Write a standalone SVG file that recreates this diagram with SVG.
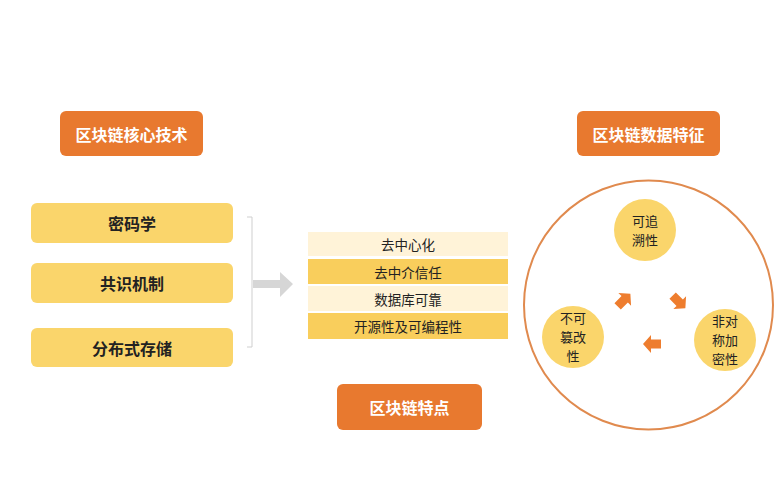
<svg xmlns="http://www.w3.org/2000/svg" width="775" height="483" viewBox="0 0 775 483">
<defs>
<style>
.title{fill:#E8792F;}
.ttxt{fill:#ffffff;font-family:"Noto Sans CJK SC",sans-serif;font-size:16px;font-weight:bold;text-anchor:middle;dominant-baseline:central;}
.ybox{fill:#FAD56B;}
.ytxt{fill:#222;font-family:"Noto Sans CJK SC",sans-serif;font-size:16px;font-weight:bold;text-anchor:middle;dominant-baseline:central;}
.rowL{fill:#FFF3D8;}
.rowD{fill:#F9CE5C;}
.rtxt{fill:#222;font-family:"Noto Sans CJK SC",sans-serif;font-size:13.5px;text-anchor:middle;dominant-baseline:central;}
.circ{fill:#FAD56B;}
.ctxt{fill:#222;font-family:"Noto Sans CJK SC",sans-serif;font-size:13px;text-anchor:middle;}
.oarr{fill:#EE7D2E;}
</style>
<path id="barrow" d="M-9,-4.5 L1,-4.5 L1,-9 L9,0 L1,9 L1,4.5 L-9,4.5 Z"/>
</defs>
<rect width="775" height="483" fill="#ffffff"/>

<g id="title-core"><rect class="title" x="60" y="111" width="143" height="45" rx="6"/><text class="ttxt" x="131.5" y="133.5">区块链核心技术</text></g>
<g id="title-data"><rect class="title" x="577" y="111" width="143" height="45" rx="6"/><text class="ttxt" x="648.5" y="133.5">区块链数据特征</text></g>
<g id="title-feature"><rect class="title" x="337" y="384" width="145" height="46" rx="6"/><text class="ttxt" x="409.5" y="407">区块链特点</text></g>

<g id="core-1"><rect class="ybox" x="31" y="203" width="202" height="40" rx="6"/><text class="ytxt" x="132" y="223">密码学</text></g>
<g id="core-2"><rect class="ybox" x="31" y="263" width="202" height="40" rx="6"/><text class="ytxt" x="132" y="283">共识机制</text></g>
<g id="core-3"><rect class="ybox" x="31" y="328" width="202" height="39" rx="6"/><text class="ytxt" x="132" y="347.5">分布式存储</text></g>

<g id="connectors">
<path d="M247,217 L252,217 L252,347 L247,347" fill="none" stroke="#cfcfcf" stroke-width="1"/>
<path d="M253,280 L280,280 L280,272 L293,284 L280,297 L280,288 L253,288 Z" fill="#d6d6d6"/>
</g>

<g id="features">
<rect class="rowL" x="308" y="232" width="200" height="24"/>
<text class="rtxt" x="408" y="244">去中心化</text>
<rect class="rowD" x="308" y="259" width="200" height="25"/>
<text class="rtxt" x="408" y="271.5">去中介信任</text>
<rect class="rowL" x="308" y="286" width="200" height="25"/>
<text class="rtxt" x="408" y="298.5">数据库可靠</text>
<rect class="rowD" x="308" y="313" width="200" height="26"/>
<text class="rtxt" x="408" y="326">开源性及可编程性</text>
</g>

<g id="data-ring"><circle cx="648.5" cy="305" r="124.5" fill="none" stroke="#E08A4E" stroke-width="2"/></g>
<g id="trace"><circle class="circ" cx="645" cy="230" r="31"/><text class="ctxt" x="645" y="226"><tspan x="645">可追</tspan><tspan x="645" dy="19">溯性</tspan></text></g>
<g id="tamper"><circle class="circ" cx="573" cy="337" r="31"/><text class="ctxt" x="573" y="323"><tspan x="573">不可</tspan><tspan x="573" dy="19">篡改</tspan><tspan x="573" dy="19">性</tspan></text></g>
<g id="asym"><circle class="circ" cx="725" cy="340" r="31"/><text class="ctxt" x="725" y="326"><tspan x="725">非对</tspan><tspan x="725" dy="19">称加</tspan><tspan x="725" dy="19">密性</tspan></text></g>

<g id="cycle-arrows">
<use href="#barrow" class="oarr" transform="translate(624,300) rotate(-45)"/>
<use href="#barrow" class="oarr" transform="translate(679,302) rotate(45)"/>
<use href="#barrow" class="oarr" transform="translate(652,344) rotate(180)"/>
</g>
</svg>
